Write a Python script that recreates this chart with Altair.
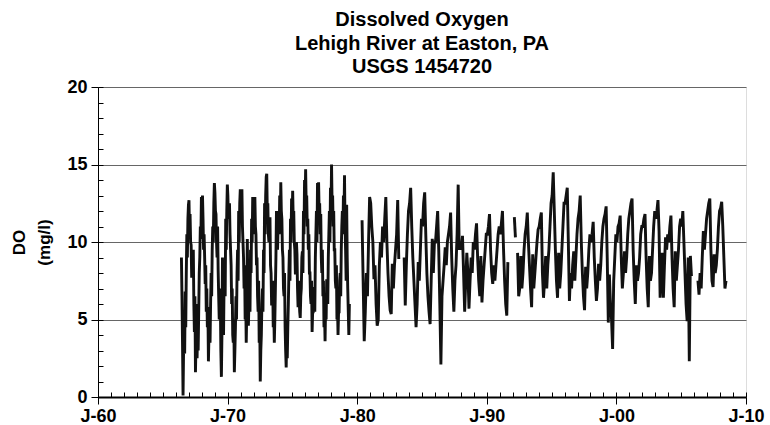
import altair as alt
import pandas as pd

FONT = "Liberation Sans"

# Half-monthly dissolved-oxygen readings (mg/l), 24 per year, 1966-1979; None = no data
early_start = 1966
do_1966_1972 = [
    None, None, None, None, None, None, None, None, None, None,
    9.0, 6.5, 3.5, 0.1, 3.1, 4.0, 2.8, 6.8, 4.5, 8.0, 10.5, 9.0, 11.5, 12.4,                    # 1966
    12.7, 10.5, 11.8, 10.0, 9.8, 7.7, 9.0, 8.2, 9.5, 6.0, 4.2, 6.5,
    1.6, 3.5, 6.0, 2.5, 4.8, 3.0, 5.5, 8.0, 9.0, 11.0, 10.2, 12.9,                              # 1967
    12.0, 13.0, 11.5, 9.5, 10.5, 9.0, 7.3, 8.5, 5.5, 7.0, 4.5, 5.8,
    2.3, 4.0, 5.8, 3.5, 6.0, 8.0, 6.5, 9.5, 11.0, 10.0, 12.5, 13.8,                             # 1968
    13.2, 12.0, 11.8, 10.0, 9.0, 11.0, 8.2, 6.5, 5.0, 7.0, 6.5, 3.0,
    1.3, 4.0, 9.0, 5.5, 4.0, 7.5, 8.5, 6.5, 11.5, 9.5, 12.0, 13.7,                              # 1969
    13.0, 11.5, 11.8, 12.5, 10.5, 9.5, 8.5, 6.0, 7.0, 4.0, 3.5, 5.0,
    1.6, 3.0, 4.5, 6.5, 5.0, 8.0, 9.5, 7.5, 12.0, 10.0, 12.5, 13.4,                             # 1970
    12.5, 11.5, 13.4, 11.0, 10.0, 9.0, 7.0, 8.5, 5.0, 6.5, 3.5, 5.5,
    10.2, 7.0, 4.6, 6.0, 7.0, 5.5, 9.5, 8.0, 11.5, 10.0, 12.9, 11.5,                            # 1971
    12.0, 10.5, 12.9, 11.0, 10.5, 8.5, 9.0, 6.5, 5.5, 7.5, 3.5, 5.0,
    1.0, 3.0, 4.0, 6.0, 7.0, 5.5, 9.5, 8.0, 12.5, 10.5, 13.0, 14.2,                             # 1972
]
do_1973_1979 = [
    14.4, 12.0, 12.5, 10.5, 10.0, 11.5, 11.5, 8.5, 8.0, 6.0, 6.0, 7.5,
    4.5, 5.5, 3.5, 5.0, 7.0, 9.0, 12.0, 10.0, 9.5, 11.0, 12.0, 10.5,                            # 1973
    13.0, 11.0, 13.85, 12.0, 11.5, 9.5, 9.0, 7.0, 6.5, 8.0, 4.5, 3.0,
    1.9, 4.0, 2.5, 4.5, 6.0, 8.0, 9.5, 7.5, 11.5, 10.0, 12.8, 11.5,                             # 1974
    13.3, 11.5, 12.0, 10.0, 9.5, 8.0, 8.0, 10.0, 9.2, 7.0, 5.8, 7.5,
    6.5, 5.5, 5.1, 6.5, 7.0, 9.0, 9.4, 8.0, 12.0, 10.5, 14.0, 12.5,                             # 1975
    14.7, 12.5, 13.0, 11.0, 11.5, 9.5, 10.5, 8.0, 8.0, 6.5, 6.0, 7.5,
    4.2, 5.5, 5.5, 7.0, 7.0, 5.5, 9.0, 10.5, 12.0, 10.0, 13.8, 12.0,                            # 1976
    13.85, 12.0, 12.5, 10.5, 11.8, 9.0, 8.0, 9.5, 6.5, 7.5, 4.5, 5.5,
    3.6, 6.0, 5.0, 7.5, 7.5, 6.0, 9.0, 10.5, 12.0, 10.0, 13.5, 12.0,                            # 1977
    15.0, 12.5, 13.0, 11.0, 12.0, 9.5, 9.5, 7.5, 7.0, 8.5, 5.0, 6.0,
    4.0, 5.5, 5.5, 7.5, 8.0, 6.5, 9.5, 11.0, 12.0, 10.5, 13.0, 11.5,                            # 1978
    14.3, 11.0, 9.5, 7.5, 12.4, 9.0, 7.0, 5.5, 4.0, 6.0,
    None, None, None, None, None, None, None, None, None, None, None, None, None, None,         # 1979
]

# Monthly readings (mg/l), Jan..Dec, 1980-2008; None = no data
late_start = 1980
do_1980_1991 = [
    None, None, None, None, 11.4, 7.5, 3.6, 5.5, 8.0, 6.5, 10.0, 12.9,     # 1980
    12.5, 11.0, 10.0, 7.6, 8.5, 6.0, 4.6, 5.0, 8.5, 10.0, 9.0, 11.0,       # 1981
    10.0, 11.5, 12.9, 10.0, 8.0, 6.5, 5.6, 5.35, 8.6, 7.0, 8.5, 9.5,       # 1982
    10.5, 12.7, 8.9, None, None, None, None, 9.0, 5.9, 8.5, 10.5, 12.0,    # 1983
    12.5, 13.5, 11.0, 9.0, 7.5, 6.0, 4.5, 6.0, 8.7, 7.5, 9.5, 11.5,        # 1984
    11.0, 12.5, 13.2, 10.5, 8.0, 6.5, 5.5, 4.7, 7.5, 10.2, 8.0, 10.0,      # 1985
    10.0, 11.0, 12.0, 9.5, 6.0, 2.1, 6.5, 7.5, 8.5, 9.65, 8.5, 10.0,       # 1986
    10.5, 11.0, 11.9, 9.0, 7.0, 5.5, 7.5, 8.5, 10.5, 13.7, 9.5, 10.0,      # 1987
    9.5, 10.4, 8.0, 5.5, 7.5, 9.3, 8.0, 5.7, 7.5, 9.0, 8.0, 10.0,          # 1988
    9.5, 10.5, 11.2, 9.0, 7.5, 6.5, 9.1, 6.1, 7.5, 8.5, 9.5, 10.5,         # 1989
    10.5, 11.0, 11.8, 9.5, 8.0, 7.3, 8.5, 7.5, 8.5, 9.5, 10.5, 11.0,       # 1990
    10.5, 11.2, 12.0, 9.5, 7.5, 6.0, 5.25, 8.7, None, None, None, None,    # 1991
]
do_1992_2008 = [
    None, 11.6, 10.3, None, 9.3, 6.5, 7.0, 9.1, 7.0, 8.0, 9.5, 10.5,       # 1992
    11.0, 11.9, 10.0, 8.5, 7.0, 5.8, 9.2, 7.0, 8.0, 9.0, 10.0, 10.8,       # 1993
    11.0, 11.5, 11.9, 8.0, 6.4, 7.5, 9.1, 7.0, 8.5, 9.5, 11.0, 12.5,       # 1994
    13.0, 14.5, 12.0, 9.5, 7.5, 6.4, 9.3, 7.0, 8.0, 9.5, 11.0, 12.5,       # 1995
    12.5, 13.0, 13.5, 10.0, 6.2, 8.0, 7.0, 8.5, 9.4, 7.5, 9.0, 10.5,       # 1996
    11.5, 12.0, 13.0, 10.0, 8.0, 6.5, 5.6, 8.4, 7.0, 8.0, 9.5, 10.5,       # 1997
    10.0, 10.5, 11.3, 9.0, 7.5, 6.2, 7.0, 8.6, 7.5, 8.5, 10.0, 11.0,       # 1998
    11.5, 11.8, 12.3, 9.0, 4.8, 7.9, 6.0, 5.0, 3.1, 7.5, 9.0, 10.5,        # 1999
    10.0, 11.0, 11.2, 11.7, 9.0, 7.0, 8.0, 9.4, 8.0, 9.0, 10.5, 11.5,      # 2000
    12.0, 12.5, 12.8, 9.5, 7.5, 6.0, 8.5, 7.5, 8.0, 9.0, 10.5, 11.0,       # 2001
    11.0, 11.5, 11.8, 9.0, 7.0, 5.8, 9.1, 7.5, 8.0, 9.5, 11.0, 12.0,       # 2002
    11.5, 12.0, 12.7, 10.7, 6.4, 8.0, 9.3, 6.4, 8.5, 10.3, 9.5, 10.5,      # 2003
    10.0, 11.0, 11.7, 9.0, 7.0, 5.8, 9.4, 7.5, 8.5, 9.5, 11.0, 11.5,       # 2004
    11.0, 12.0, 10.0, 8.0, 6.0, 4.9, 9.0, 2.3, 9.1, 7.8, None, None,       # 2005
    None, None, None, 7.5, 6.6, 8.0, 7.0, 9.0, 10.7, 9.5, 10.5, 11.5,      # 2006
    12.0, 12.5, 12.8, 9.5, 7.5, 7.1, 9.2, 8.0, 8.5, 9.5, 11.0, 12.0,       # 2007
    12.2, 12.6, 11.0, 9.0, 7.0, 7.5,                                       # 2008
]

year_ticks = [1960, 1970, 1980, 1990, 2000, 2010]
minor_year_ticks = list(range(1960, 2011))
do_ticks = [0, 5, 10, 15, 20]
minor_do_ticks = list(range(0, 21))
title_lines = ["Dissolved Oxygen", "Lehigh River at Easton, PA", "USGS 1454720"]

# table: one row per reading, segments split at data gaps
rows = []
seg = 0
prev_none = False
for start, per_year, vals in [
    (early_start, 24, do_1966_1972 + do_1973_1979),
    (late_start, 12, do_1980_1991 + do_1992_2008),
]:
    for i, v in enumerate(vals):
        if v is None:
            if not prev_none:
                seg += 1
            prev_none = True
            continue
        prev_none = False
        rows.append({"t": start + (i + 0.5) / per_year, "do": v, "seg": seg})
df = pd.DataFrame(rows)

W, H = 648, 310
xscale = alt.Scale(domain=[1960, 2010], nice=False, zero=False)
yscale = alt.Scale(domain=[0, 20], nice=False, zero=True)

base = alt.Chart(df)

line = base.mark_line(color="#111111", strokeWidth=2.9).encode(
    x=alt.X("t:Q", scale=xscale, axis=alt.Axis(
        values=year_ticks,
        labelExpr="'J-' + substring(toString(datum.value), 2, 4)",
        tickSize=7, tickColor="black", tickWidth=1,
        domainColor="black", domainWidth=2, grid=False,
        labelFont=FONT, labelFontSize=18, labelFontWeight="bold",
        labelColor="black", labelPadding=3, title=None,
        labelFlush=False, labelOverlap=False)),
    y=alt.Y("do:Q", scale=yscale, axis=alt.Axis(
        values=do_ticks, grid=True, gridColor="#666666", gridWidth=1,
        tickSize=7, tickColor="black", domainColor="black", domainWidth=1,
        labelFont=FONT, labelFontSize=18, labelFontWeight="bold",
        labelColor="black", labelPadding=4,
        title=["DO", "(mg/l)"], titleFont=FONT, titleFontSize=17,
        titleFontWeight="bold", titleColor="black", titlePadding=13,
        titleLineHeight=25, labelFlush=False, labelOverlap=False)),
    detail="seg:N",
)

minor = base.mark_line(opacity=0).encode(
    x=alt.X("t:Q", scale=xscale, axis=alt.Axis(
        orient="top", offset=-H, values=minor_year_ticks, labels=False,
        domain=False, grid=False, tickSize=5, tickColor="black", title=None)),
    y=alt.Y("do:Q", scale=yscale, axis=alt.Axis(
        orient="right", offset=-W, values=minor_do_ticks, labels=False,
        domain=False, grid=False, tickSize=5, tickColor="black", title=None)),
    detail="seg:N",
)

chart = alt.layer(minor, line).resolve_axis(
    x="independent", y="independent"
).properties(
    width=W, height=H,
    autosize=alt.AutoSizeParams(type="none"),
    padding={"left": 98, "top": 87, "right": 24, "bottom": 28},
    title=alt.TitleParams(
        title_lines, font=FONT, fontSize=20, fontWeight="bold", color="black",
        anchor="middle", lineHeight=23.5, offset=1),
).configure_view(stroke="black", strokeWidth=1).configure(background="white")

chart.save("out.html", embed_options={"renderer": "svg", "actions": False})
